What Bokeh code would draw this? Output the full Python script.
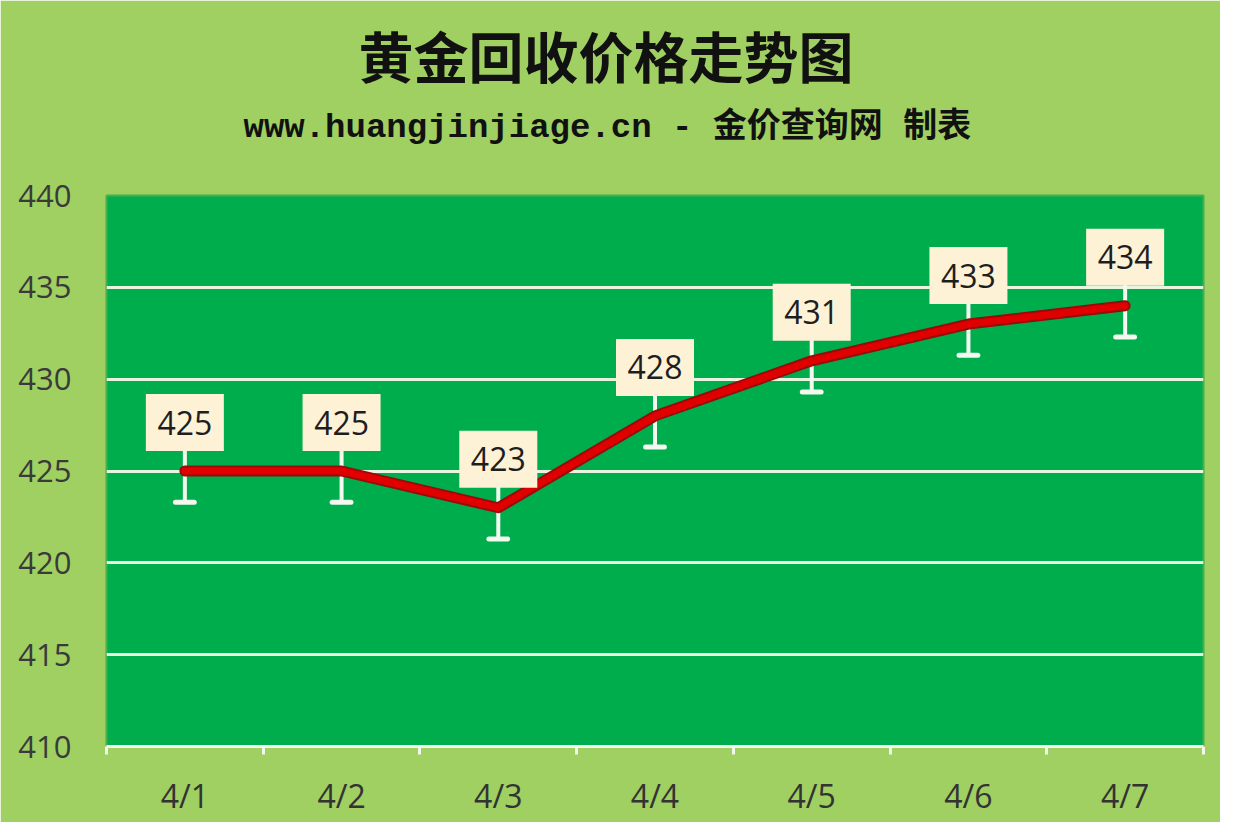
from bokeh.core.properties import value
from bokeh.embed import file_html
from bokeh.models import ColumnDataSource, FixedTicker, Title
from bokeh.plotting import figure
from bokeh.resources import INLINE

# data
dates = ["4/1", "4/2", "4/3", "4/4", "4/5", "4/6", "4/7"]
prices = [425, 425, 423, 428, 431, 433, 434]
err = 1.7
y_ticks = [410, 415, 420, 425, 430, 435, 440]

OUTER_BG = "#a0cf62"
INNER_BG = "#00ad4d"
BOX_BG = "#fdf1d6"
FONT = "Open Sans"
CJK = "Noto Sans CJK SC"

xs = list(range(1, len(dates) + 1))
label_offset = 2.64  # box centre above the point, in price units

src = ColumnDataSource(dict(
    x=xs,
    price=prices,
    lo=[v - err for v in prices],
    hi=[v + err for v in prices],
    cap0=[x - 0.06 for x in xs],
    cap1=[x + 0.06 for x in xs],
    box_y=[v + label_offset for v in prices],
    label=[str(v) for v in prices],
))

p = figure(
    width=1220, height=822,
    x_range=(0.5, len(dates) + 0.5), y_range=(410, 440),
    output_backend="svg", toolbar_location=None,
    min_border_left=106, min_border_right=17,
    min_border_top=195, min_border_bottom=76,
)
p.background_fill_color = INNER_BG
p.border_fill_color = OUTER_BG
p.outline_line_color = "#45b04c"
p.outline_line_width = 2

# titles
sub = Title(text="www.huangjinjiage.cn - 金价查询网 制表", align="left",
            text_font="Liberation Mono, Noto Sans CJK SC",
            text_font_size="34px", text_font_style="bold",
            text_color="#111111", offset=137, standoff=97)
main = Title(text="黄金回收价格走势图", align="left",
             text_font=CJK, text_font_size="55px", text_font_style="bold",
             text_color="#111111", offset=252, standoff=-71)
p.add_layout(sub, "above")
p.add_layout(main, "above")

# grid
p.xgrid.visible = False
p.ygrid.ticker = FixedTicker(ticks=y_ticks[1:-1])
p.ygrid.grid_line_color = "#e8f5df"
p.ygrid.grid_line_width = 3

# axes
p.xaxis.ticker = FixedTicker(ticks=xs, minor_ticks=[x - 0.5 for x in xs] + [xs[-1] + 0.5])
p.xaxis.major_label_overrides = {x: d for x, d in zip(xs, dates)}
p.xaxis.axis_line_color = "#f2f7ee"
p.xaxis.axis_line_width = 3
p.xaxis.major_tick_line_color = None
p.xaxis.major_tick_out = 0
p.xaxis.major_tick_in = 0
p.xaxis.minor_tick_line_color = "#f2f7ee"
p.xaxis.minor_tick_line_width = 3
p.xaxis.minor_tick_out = 8
p.xaxis.minor_tick_in = 0
p.xaxis.major_label_standoff = 19
p.xaxis.major_label_text_font = FONT
p.xaxis.major_label_text_font_size = "32px"
p.xaxis.major_label_text_color = "#333333"

p.yaxis.ticker = FixedTicker(ticks=y_ticks)
p.yaxis.axis_line_color = None
p.yaxis.major_tick_line_color = None
p.yaxis.minor_tick_line_color = None
p.yaxis.major_label_standoff = 29
p.yaxis.major_label_text_font = FONT
p.yaxis.major_label_text_font_size = "31px"
p.yaxis.major_label_text_color = "#3a3a3a"

# error bars
p.segment(x0="x", y0="lo", x1="x", y1="hi", source=src,
          line_color="#f4f9f0", line_width=4)
p.segment(x0="cap0", y0="lo", x1="cap1", y1="lo", source=src,
          line_color="#f4f9f0", line_width=5, line_cap="round")

# price line
p.line("x", "price", source=src, line_color="#9a0a0a", line_width=11,
       line_cap="round", line_join="round")
p.line("x", "price", source=src, line_color="#e00000", line_width=7,
       line_cap="round", line_join="round")

# value labels
p.rect(x="x", y="box_y", width=78, height=57, width_units="screen",
       height_units="screen", source=src, fill_color=BOX_BG, line_color=None)
p.text(x="x", y="box_y", text="label", source=src, text_align="center",
       text_baseline="middle", text_font=value(FONT), text_font_size="32px",
       text_color="#1e1e1e")

open("out.html", "w").write(file_html(p, INLINE))
